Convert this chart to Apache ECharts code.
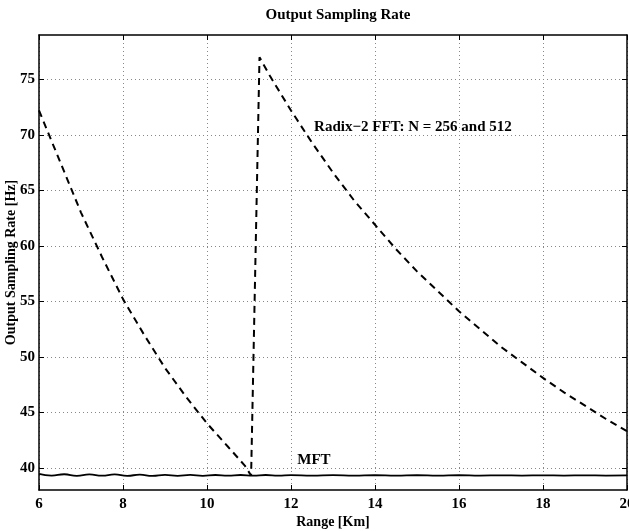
<!DOCTYPE html>
<html>
<head>
<meta charset="utf-8">
<script src="https://cdn.jsdelivr.net/npm/echarts@6/dist/echarts.min.js"></script>
<style>
  html, body { margin: 0; padding: 0; background: #fff; }
  #chart-container { width: 629px; height: 531px; }
</style>
</head>
<body>
<div id="chart-container"></div>
<script>
// values
const fftRange = [6, 6.5, 7, 7.5, 8, 8.5, 9, 9.5, 10, 10.5, 10.9, 11.05,
  11.25, 11.5, 12, 12.5, 13, 13.5, 14, 14.5, 15, 15.5, 16, 16.5, 17, 17.5, 18, 18.5, 19, 19.5, 20];
const fftRate = [72.2, 67.6, 63.0, 59.0, 55.2, 52.0, 49.0, 46.4, 44.0, 41.9, 40.2, 39.3,
  77.0, 75.3, 72.2, 69.3, 66.6, 64.1, 61.9, 59.7, 57.7, 55.9, 54.1, 52.5, 50.9, 49.5, 48.1, 46.8, 45.6, 44.4, 43.3];

const mftRange = [6, 6.3, 6.6, 6.9, 7.2, 7.5, 7.8, 8.1, 8.4, 8.7, 9, 9.3, 9.6, 9.9, 10.2, 10.5, 10.8, 11.1, 11.4, 11.7,
  12, 12.5, 13, 13.5, 14, 14.5, 15, 15.5, 16, 16.5, 17, 17.5, 18, 18.5, 19, 19.5, 20];
const mftRate = [39.45, 39.3, 39.42, 39.28, 39.4, 39.3, 39.4, 39.28, 39.38, 39.27, 39.36, 39.28, 39.36, 39.28, 39.35, 39.29, 39.35, 39.3, 39.35, 39.3,
  39.34, 39.3, 39.34, 39.3, 39.33, 39.3, 39.33, 39.3, 39.33, 39.3, 39.32, 39.3, 39.32, 39.3, 39.32, 39.3, 39.31];

const xTicks = [6, 8, 10, 12, 14, 16, 18, 20];
const yTicks = [40, 45, 50, 55, 60, 65, 70, 75];

const font = '"Liberation Serif", "Times New Roman", serif';
const gridDots = { show: true, lineStyle: { color: '#888', type: [1, 3], width: 1 } };
const noteLabel = { fontFamily: font, fontWeight: 'bold', fontSize: 15, color: '#000' };

const myChart = echarts.init(document.getElementById('chart-container'));
const option = {
  animation: false,
  title: {
    text: 'Output Sampling Rate',
    left: 333, top: 3, textAlign: 'center',
    textStyle: { fontFamily: font, fontWeight: 'bold', fontSize: 15, color: '#000' }
  },
  grid: { left: 39, right: 2, top: 35, bottom: 41, outerBoundsMode: 'none', containLabel: false },
  xAxis: [{
    type: 'value', min: 6, max: 20, interval: 2,
    name: 'Range [Km]', nameLocation: 'center', nameGap: 25, nameMoveOverlap: false,
    nameTextStyle: { fontFamily: font, fontWeight: 'bold', fontSize: 14, color: '#000' },
    axisLine: { lineStyle: { color: '#000', width: 1.5 } },
    axisTick: { inside: true, length: 5, lineStyle: { color: '#000' } },
    axisLabel: { fontFamily: font, fontWeight: 'bold', fontSize: 15, color: '#000', margin: 7 },
    splitLine: gridDots
  }, {
    type: 'value', min: 6, max: 20, interval: 2, position: 'top',
    axisLine: { lineStyle: { color: '#000', width: 1.5 } },
    axisTick: { inside: true, length: 5, lineStyle: { color: '#000' } },
    axisLabel: { show: false }, splitLine: { show: false }
  }],
  yAxis: [{
    type: 'value', min: 38, max: 79,
    name: 'Output Sampling Rate [Hz]', nameLocation: 'center', nameGap: 21, nameMoveOverlap: false,
    nameTextStyle: { fontFamily: font, fontWeight: 'bold', fontSize: 14, color: '#000' },
    axisLine: { lineStyle: { color: '#000', width: 1.5 } },
    axisTick: { inside: true, length: 5, lineStyle: { color: '#000' }, customValues: yTicks },
    axisLabel: { fontFamily: font, fontWeight: 'bold', fontSize: 15, color: '#000', margin: 4, customValues: yTicks },
    splitLine: Object.assign({ customValues: yTicks }, gridDots)
  }, {
    type: 'value', min: 38, max: 79, position: 'right',
    axisLine: { show: true, lineStyle: { color: '#000', width: 1.5 } },
    axisTick: { show: true, inside: true, length: 5, lineStyle: { color: '#000' }, customValues: yTicks },
    axisLabel: { show: false }, splitLine: { show: false }
  }],
  series: [{
    name: 'Radix-2 FFT',
    type: 'line',
    data: fftRange.map((x, i) => [x, fftRate[i]]),
    showSymbol: false,
    lineStyle: { color: '#000', width: 2, type: [7, 5] },
    markPoint: {
      symbol: 'circle', symbolSize: 0,
      data: [{ coord: [12.55, 70.7] }],
      label: Object.assign({ show: true, position: 'right', distance: 0, formatter: 'Radix\u22122 FFT: N = 256 and 512' }, noteLabel)
    }
  }, {
    name: 'MFT',
    type: 'line',
    data: mftRange.map((x, i) => [x, mftRate[i]]),
    showSymbol: false,
    smooth: true,
    lineStyle: { color: '#000', width: 1.8 },
    markPoint: {
      symbol: 'circle', symbolSize: 0,
      data: [{ coord: [12.15, 40.7] }],
      label: Object.assign({ show: true, position: 'right', distance: 0, formatter: 'MFT' }, noteLabel)
    }
  }]
};
myChart.setOption(option);
</script>
</body>
</html>
